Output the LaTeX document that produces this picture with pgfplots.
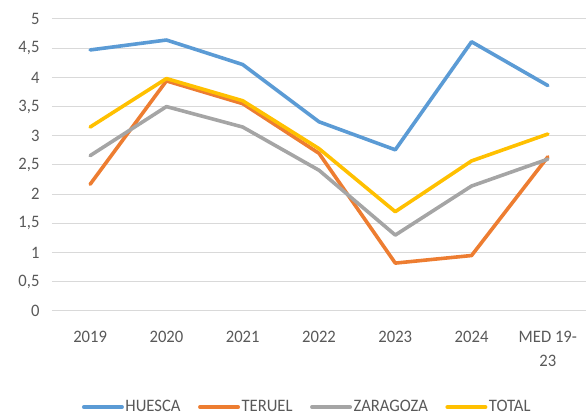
\documentclass[border=0pt]{standalone}
\usepackage{fontspec}
\setmainfont{Carlito}[FakeStretch=0.95]
\usepackage{pgfplots}
\pgfplotsset{compat=1.18}
\definecolor{cBlue}{HTML}{5B9BD5}
\definecolor{cOrange}{HTML}{ED7D31}
\definecolor{cGray}{HTML}{A5A5A5}
\definecolor{cGold}{HTML}{FFC000}
\definecolor{gridgray}{HTML}{D9D9D9}
\definecolor{txtgray}{HTML}{595959}
\begin{document}
\begin{tikzpicture}
\begin{axis}[name=plot, scale only axis, width=534pt, height=292pt,
  xmin=-0.5, xmax=6.5, ymin=0, ymax=5,
  ytick={0,0.5,...,5},
  yticklabels={0,{0,5},1,{1,5},2,{2,5},3,{3,5},4,{4,5},5},
  xtick={0,...,6},
  xticklabels={2019,2020,2021,2022,2023,2024,{MED 19-\\23}},
  axis line style={draw=none},
  major tick length=0pt,
  ymajorgrids, grid style={color=gridgray, line width=1pt},
  tick label style={font=\fontsize{17.5}{24}\selectfont, text=txtgray},
  xticklabel style={align=center, yshift=-17pt},
  yticklabel style={xshift=-9pt},
  legend columns=4,
  legend style={at={(0.4775,-0.329)}, anchor=center, draw=none, fill=none,
    font=\fontsize{17.5}{20}\selectfont, text=txtgray, inner sep=0pt,
    nodes={inner sep=1.5pt},
    /tikz/every even column/.append style={column sep=16pt}},
  legend image code/.code={\draw[#1, line width=4pt, line cap=round] (0pt,0pt) -- (38pt,0pt);},
  every axis plot/.append style={line width=3.6pt, line join=round, line cap=round},
]
\addplot[cBlue] coordinates {(0,4.47) (1,4.64) (2,4.22) (3,3.24) (4,2.76) (5,4.61) (6,3.86)};
\addlegendentry{HUESCA}
\addplot[cOrange] coordinates {(0,2.17) (1,3.94) (2,3.55) (3,2.70) (4,0.82) (5,0.95) (6,2.64)};
\addlegendentry{TERUEL}
\addplot[cGray] coordinates {(0,2.66) (1,3.50) (2,3.15) (3,2.41) (4,1.30) (5,2.14) (6,2.60)};
\addlegendentry{ZARAGOZA}
\addplot[cGold] coordinates {(0,3.15) (1,3.98) (2,3.60) (3,2.78) (4,1.70) (5,2.57) (6,3.03)};
\addlegendentry{TOTAL}
\end{axis}
\pgfresetboundingbox
\useasboundingbox (plot.south west) ++(-52pt,-108pt) rectangle ++(588pt,419pt);
\end{tikzpicture}
\end{document}
